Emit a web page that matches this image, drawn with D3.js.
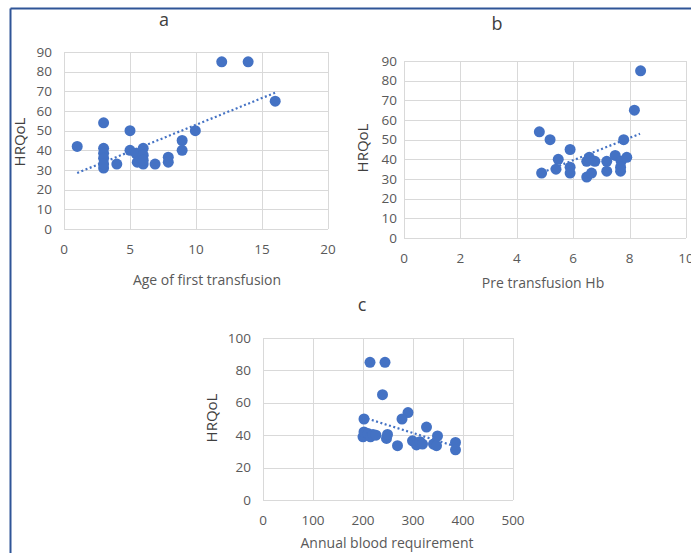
<!DOCTYPE html>
<html>
<head>
<meta charset="utf-8">
<script src="https://cdn.jsdelivr.net/npm/d3@7"></script>
<style>
  body { margin: 0; background: #fff; }
  text { font-family: "Open Sans", "Liberation Sans", sans-serif; fill: #595959; }
</style>
</head>
<body>
<div id="sketchpad"></div>
<script>
// panel a: age of first transfusion vs HRQoL
var ageX = [1, 3, 3, 3, 3, 3, 3, 4, 5, 5, 5.45, 5.55, 6, 6, 6, 6, 6.9, 7.9, 7.9, 8.95, 8.95, 9.95, 11.95, 13.95, 16];
var ageY = [42, 54, 41, 38.5, 36, 31, 33, 33, 50, 40, 38.5, 34, 41, 37.5, 33, 35, 33, 36.5, 34, 45, 40, 50, 85, 85, 65];
var ageTrend = [[1, 28.5], [16, 69.3]];

// panel b: pre transfusion Hb vs HRQoL
var hbX = [4.8, 5.18, 5.89, 5.47, 4.88, 5.39, 5.89, 5.89, 6.48, 6.57, 6.77, 6.48, 6.65, 7.19, 7.19, 7.49, 7.7, 7.68, 7.68, 7.9, 7.79, 8.17, 8.39];
var hbY = [54, 50, 45, 40, 33, 35, 36, 33, 39, 41, 39, 31, 33, 39, 34, 42, 39, 34, 36, 41, 50, 65, 85];
var hbTrend = [[5.06, 34.2], [8.37, 53]];

// panel c: annual blood requirement vs HRQoL
var bloodX = [214, 244, 239, 202, 290, 278, 327, 200, 202, 210, 215, 220, 226, 247, 249, 269, 299, 307, 314, 319, 341, 347, 349, 385, 385];
var bloodY = [85, 85, 65, 50, 54, 50, 45, 39, 42, 41, 39, 40.5, 40, 38, 40.5, 33.5, 36.5, 34, 36, 34.5, 34.5, 33.5, 39.5, 35.5, 31];
var bloodTrend = [[209, 50.2], [383, 33.3]];

var w = 691, h = 553;
var dot_color = "#4472c4";
var grid_color = "#d9d9d9";

var svg = d3.select("#sketchpad")
    .append("svg")
    .attr("width", w)
    .attr("height", h);

// outer frame (only top and left edges show)
svg.append("line").attr("x1", 10.5).attr("y1", 8.5).attr("x2", w).attr("y2", 8.5)
    .style("stroke", "#2f5597").style("stroke-width", 2);
svg.append("line").attr("x1", 10.5).attr("y1", 8.5).attr("x2", 10.5).attr("y2", h)
    .style("stroke", "#2f5597").style("stroke-width", 2);

function panel(opt) {
    var x = d3.scaleLinear().domain(opt.xDomain).range([opt.left, opt.right]);
    var y = d3.scaleLinear().domain(opt.yDomain).range([opt.bottom, opt.top]);
    var g = svg.append("g");

    g.selectAll("line.gx")
        .data(opt.xTicks)
        .enter()
        .append("line")
        .attr("class", "gx")
        .attr("x1", function(d) { return Math.round(x(d)) + 0.5; })
        .attr("x2", function(d) { return Math.round(x(d)) + 0.5; })
        .attr("y1", opt.top)
        .attr("y2", opt.bottom)
        .style("stroke", grid_color);

    g.selectAll("line.gy")
        .data(opt.yTicks)
        .enter()
        .append("line")
        .attr("class", "gy")
        .attr("y1", function(d) { return Math.round(y(d)) + 0.5; })
        .attr("y2", function(d) { return Math.round(y(d)) + 0.5; })
        .attr("x1", opt.left)
        .attr("x2", opt.right)
        .style("stroke", grid_color);

    g.selectAll("text.tx")
        .data(opt.xTicks)
        .enter()
        .append("text")
        .attr("class", "tx")
        .attr("x", function(d) { return x(d); })
        .attr("y", opt.bottom + 25)
        .attr("text-anchor", "middle")
        .style("font-size", "13.5px")
        .text(function(d) { return d; });

    g.selectAll("text.ty")
        .data(opt.yTicks)
        .enter()
        .append("text")
        .attr("class", "ty")
        .attr("x", opt.left - opt.yGap)
        .attr("y", function(d) { return y(d) + 4.5; })
        .attr("text-anchor", "end")
        .style("font-size", "13.5px")
        .text(function(d) { return d; });

    g.append("text")
        .attr("x", opt.titleX).attr("y", opt.titleY)
        .attr("text-anchor", "middle")
        .style("font-size", "18px")
        .style("fill", "#404040")
        .text(opt.title);

    g.append("text")
        .attr("x", (opt.left + opt.right) / 2 + opt.xLabelShift).attr("y", opt.xLabelY)
        .attr("text-anchor", "middle")
        .style("font-size", "14px")
        .text(opt.xLabel);

    g.append("text")
        .attr("transform", "translate(" + opt.yLabelX + "," + opt.yLabelY + ") rotate(-90)")
        .attr("text-anchor", "middle")
        .style("font-size", "15px")
        .style("fill", "#404040")
        .text("HRQoL");

    g.append("line")
        .attr("x1", x(opt.trend[0][0])).attr("y1", y(opt.trend[0][1]))
        .attr("x2", x(opt.trend[1][0])).attr("y2", y(opt.trend[1][1]))
        .style("stroke", dot_color)
        .style("stroke-width", 2.2)
        .style("stroke-dasharray", "2,2.5");

    g.selectAll("circle")
        .data(d3.range(opt.xs.length))
        .enter()
        .append("circle")
        .attr("cx", function(i) { return x(opt.xs[i]); })
        .attr("cy", function(i) { return y(opt.ys[i]); })
        .attr("r", 5.5)
        .style("fill", dot_color);
}

panel({ xs: ageX, ys: ageY, trend: ageTrend,
        xDomain: [0, 20], yDomain: [0, 90],
        xTicks: [0, 5, 10, 15, 20], yTicks: d3.range(0, 91, 10),
        left: 64, right: 328, top: 52, bottom: 229, yGap: 12,
        title: "a", titleX: 164, titleY: 26,
        xLabel: "Age of first transfusion", xLabelShift: 11, xLabelY: 285,
        yLabelX: 25, yLabelY: 142 });

panel({ xs: hbX, ys: hbY, trend: hbTrend,
        xDomain: [0, 10], yDomain: [0, 90],
        xTicks: [0, 2, 4, 6, 8, 10], yTicks: d3.range(0, 91, 10),
        left: 404, right: 686, top: 61, bottom: 238, yGap: 7,
        title: "b", titleX: 497, titleY: 30,
        xLabel: "Pre transfusion Hb", xLabelShift: -2, xLabelY: 288,
        yLabelX: 368, yLabelY: 148 });

panel({ xs: bloodX, ys: bloodY, trend: bloodTrend,
        xDomain: [0, 500], yDomain: [0, 100],
        xTicks: [0, 100, 200, 300, 400, 500], yTicks: d3.range(0, 101, 20),
        left: 263, right: 513, top: 338, bottom: 500, yGap: 12,
        title: "c", titleX: 362, titleY: 311,
        xLabel: "Annual blood requirement", xLabelShift: -1, xLabelY: 548,
        yLabelX: 217, yLabelY: 418 });
</script>
</body>
</html>
